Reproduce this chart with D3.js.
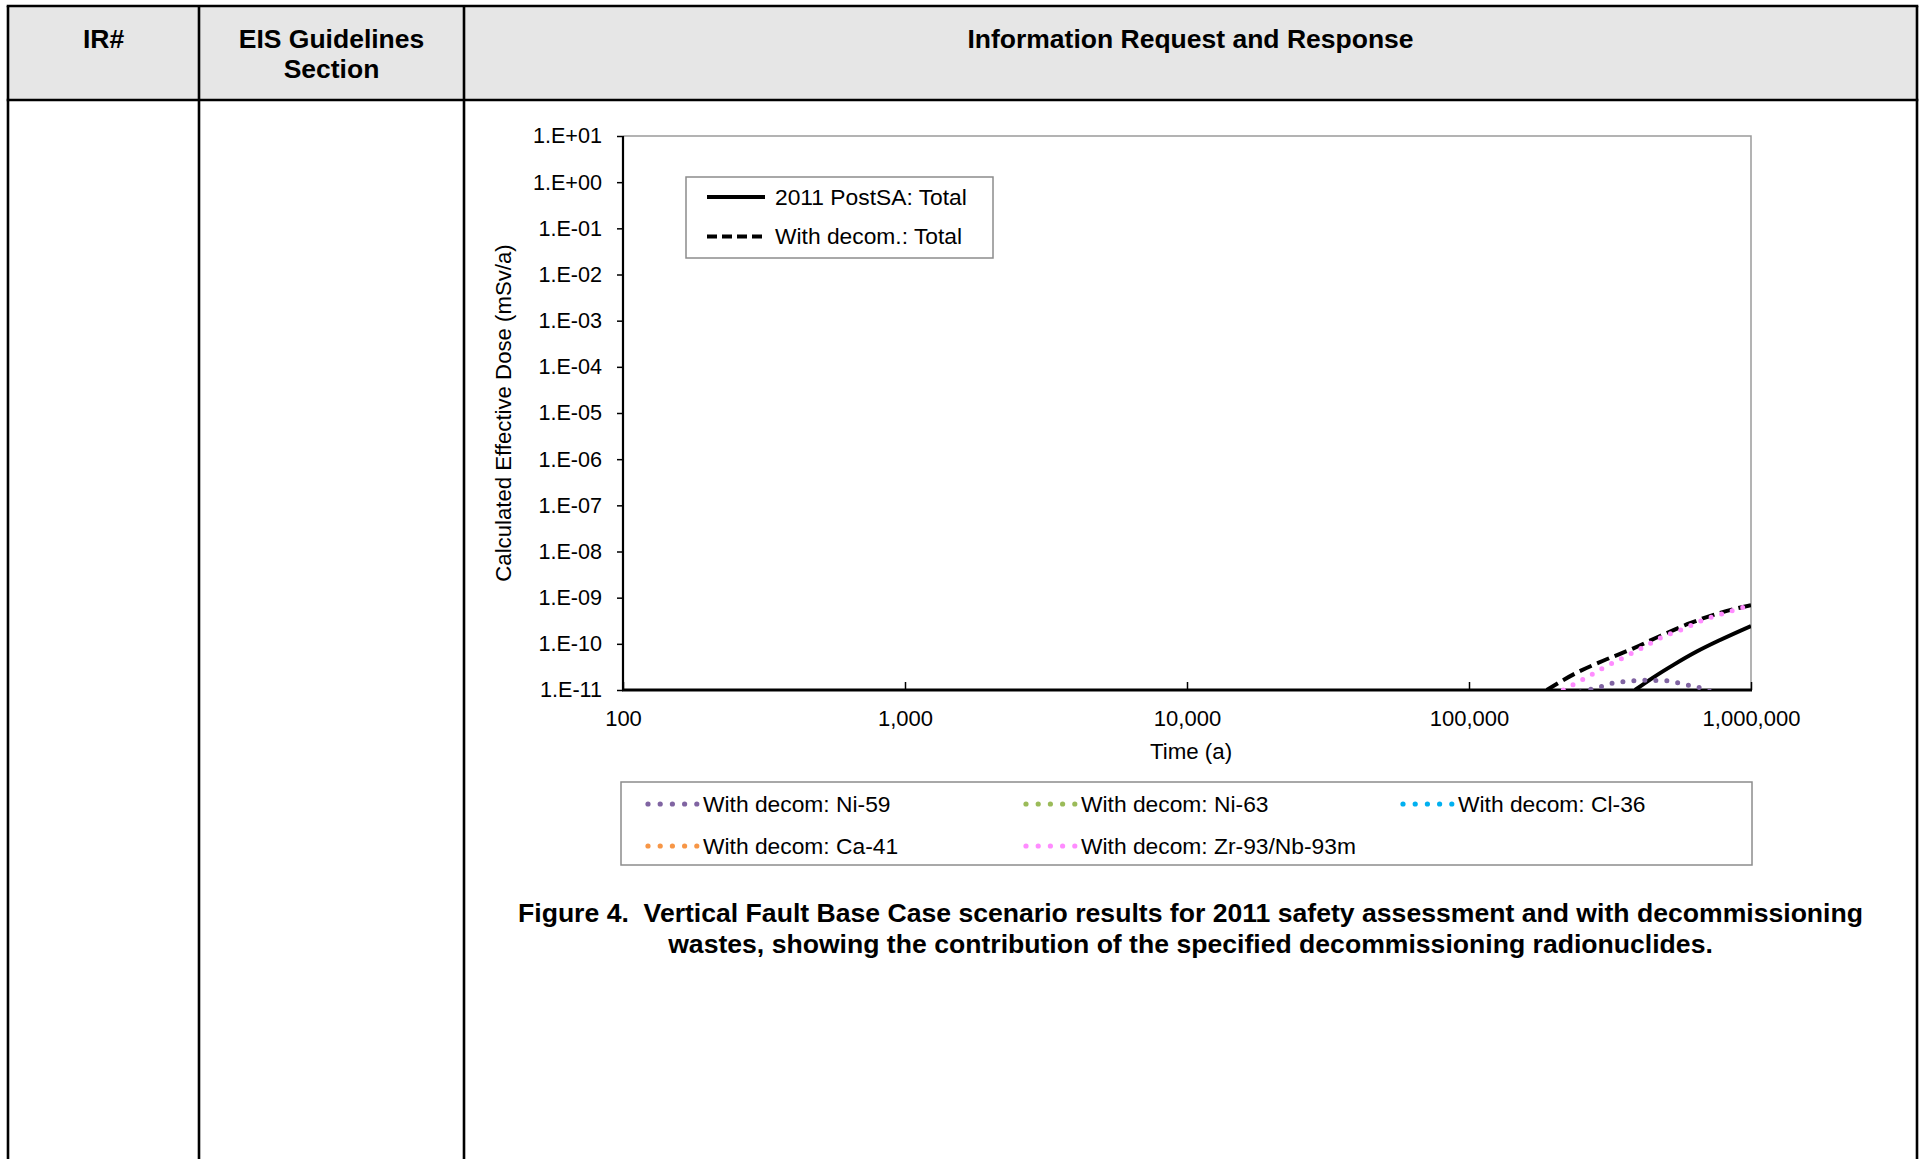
<!DOCTYPE html>
<html>
<head>
<meta charset="utf-8">
<script src="https://cdn.jsdelivr.net/npm/d3@7"></script>
<style>
  body { margin: 0; background: #fff; }
  svg { display: block; }
  text { font-family: "Liberation Sans", Arial, sans-serif; fill: #000; }
</style>
</head>
<body>
<script>

// ---- data ----
const headerTitles = [["IR#"], ["EIS Guidelines", "Section"], ["Information Request and Response"]];

const timeTicks = [100, 1000, 10000, 100000, 1000000];
const doseTicks = [1e1, 1e0, 1e-1, 1e-2, 1e-3, 1e-4, 1e-5, 1e-6, 1e-7, 1e-8, 1e-9, 1e-10, 1e-11];
const doseLabels = ["1.E+01", "1.E+00", "1.E-01", "1.E-02", "1.E-03", "1.E-04", "1.E-05",
                    "1.E-06", "1.E-07", "1.E-08", "1.E-09", "1.E-10", "1.E-11"];

// [time (a), dose (mSv/a)]
const postSATotal = [[388000, 1.0e-11], [451000, 1.88e-11], [531000, 3.5e-11], [642000, 6.8e-11],
                     [777000, 1.21e-10], [1000000, 2.43e-10]];
const decomTotal = [[188700, 1.0e-11], [241000, 2.37e-11], [299000, 4.3e-11], [383000, 8.0e-11],
                    [476000, 1.48e-10], [608000, 2.8e-10], [777000, 4.7e-10], [1000000, 6.9e-10]];
const ni59 = [[248000, 9e-12], [269000, 1.03e-11], [294000, 1.18e-11], [322000, 1.4e-11],
              [352000, 1.51e-11], [388000, 1.6e-11], [424000, 1.62e-11], [463000, 1.6e-11],
              [510000, 1.57e-11], [557000, 1.4e-11], [612000, 1.24e-11], [669000, 1.09e-11],
              [725000, 9e-12]];
const ni63 = [];   // below 1.E-11 over the whole range shown
const cl36 = [];   // below 1.E-11
const ca41 = [];   // below 1.E-11
const zr93 = [[216000, 1.0e-11], [254000, 1.7e-11], [299000, 3.0e-11], [352000, 5.0e-11],
              [415000, 8.4e-11], [488000, 1.43e-10], [575000, 2.1e-10], [678000, 3.3e-10],
              [820000, 4.8e-10], [1000000, 6.9e-10]];

const totalNames = ["2011 PostSA: Total", "With decom.: Total"];
const nuclideNames = ["With decom: Ni-59", "With decom: Ni-63", "With decom: Cl-36",
                      "With decom: Ca-41", "With decom: Zr-93/Nb-93m"];

const captionLines = ["Figure 4.  Vertical Fault Base Case scenario results for 2011 safety assessment and with decommissioning",
                      "wastes, showing the contribution of the specified decommissioning radionuclides."];

// ---- page ----
const W = 1923, H = 1159;
const svg = d3.select("body").append("svg").attr("width", W).attr("height", H);

// table frame
const colX = [8, 199, 464, 1917];
const tTop = 6, tHead = 100;

svg.append("rect")
    .attr("x", colX[0]).attr("y", tTop)
    .attr("width", colX[3] - colX[0]).attr("height", tHead - tTop)
    .attr("fill", "#e6e6e6");

const frame = svg.append("g").attr("stroke", "#000").attr("stroke-width", 2.6);
colX.forEach(cx => frame.append("line").attr("x1", cx).attr("x2", cx).attr("y1", tTop).attr("y2", H + 5));
[tTop, tHead].forEach(ty => frame.append("line").attr("x1", colX[0] - 1.3).attr("x2", colX[3] + 1.3).attr("y1", ty).attr("y2", ty));

headerTitles.forEach((lines, i) => {
    const t = svg.append("text")
        .attr("x", (colX[i] + colX[i + 1]) / 2)
        .attr("y", 48)
        .attr("text-anchor", "middle")
        .style("font-size", "26.5px")
        .style("font-weight", "bold");
    lines.forEach((l, j) => t.append("tspan").attr("x", (colX[i] + colX[i + 1]) / 2).attr("dy", j ? 30 : 0).text(l));
});

// ---- chart ----
const plot = { left: 623, right: 1751, top: 136, bottom: 690 };

const x = d3.scaleLog().domain([100, 1e6]).range([plot.left, plot.right]);
const y = d3.scaleLog().domain([1e-11, 10]).range([plot.bottom, plot.top]);

svg.append("clipPath").attr("id", "plotclip")
    .append("rect")
    .attr("x", plot.left).attr("y", plot.top)
    .attr("width", plot.right - plot.left).attr("height", plot.bottom - plot.top);

// plot border (top / right in grey)
svg.append("path")
    .attr("d", `M${plot.left},${plot.top}H${plot.right}V${plot.bottom}`)
    .attr("fill", "none").attr("stroke", "#9a9a9a").attr("stroke-width", 1.5);

// y axis
const yAxis = svg.append("g")
    .attr("transform", `translate(${plot.left},0)`)
    .call(d3.axisLeft(y).tickValues(doseTicks)
        .tickFormat((d, i) => doseLabels[i])
        .tickSize(6).tickPadding(15));
yAxis.select(".domain").remove();
yAxis.selectAll("line").attr("stroke", "#000").attr("stroke-width", 1.5);
yAxis.selectAll("text").style("font-size", "21.6px").attr("font-family", null);

// x axis
const xAxis = svg.append("g")
    .attr("transform", `translate(0,${plot.bottom})`)
    .call(d3.axisBottom(x).tickValues(timeTicks)
        .tickFormat(d3.format(","))
        .tickSizeInner(-8).tickSizeOuter(0).tickPadding(20));
xAxis.select(".domain").remove();
xAxis.selectAll("line").attr("stroke", "#000").attr("stroke-width", 1.5);
xAxis.selectAll("text").style("font-size", "22px").attr("font-family", null);

// axis lines
svg.append("line").attr("x1", plot.left).attr("x2", plot.left)
    .attr("y1", plot.top).attr("y2", plot.bottom + 1)
    .attr("stroke", "#000").attr("stroke-width", 2.2);
svg.append("line").attr("x1", plot.left - 1).attr("x2", plot.right + 1)
    .attr("y1", plot.bottom).attr("y2", plot.bottom)
    .attr("stroke", "#000").attr("stroke-width", 3);

// axis titles
svg.append("text")
    .attr("x", (plot.left + plot.right) / 2 + 4).attr("y", 751)
    .attr("dy", "0.35em").attr("text-anchor", "middle")
    .style("font-size", "22.3px")
    .text("Time (a)");
svg.append("text")
    .attr("transform", `translate(503,${(plot.top + plot.bottom) / 2}) rotate(-90)`)
    .attr("dy", "0.35em").attr("text-anchor", "middle")
    .style("font-size", "22.2px")
    .text("Calculated Effective Dose (mSv/a)");

// series
const seriesStyle = [
    { data: postSATotal, color: "#000", width: 4, dash: null, cap: "butt" },
    { data: decomTotal, color: "#000", width: 4, dash: "13,6", cap: "butt" },
    { data: ni59, color: "#8064a2", width: 5, dash: "0,11", cap: "round" },
    { data: ni63, color: "#9bbb59", width: 5, dash: "0,11", cap: "round" },
    { data: cl36, color: "#00b0f0", width: 5, dash: "0,11", cap: "round" },
    { data: ca41, color: "#f79646", width: 5, dash: "0,11", cap: "round" },
    { data: zr93, color: "#ff8cff", width: 5, dash: "0,11", cap: "round" }
];

const line = d3.line()
    .x(d => x(d[0]))
    .y(d => y(d[1]))
    .curve(d3.curveMonotoneX);

const curves = svg.append("g").attr("clip-path", "url(#plotclip)");
seriesStyle.filter(s => s.data.length).forEach(s => {
    curves.append("path")
        .datum(s.data)
        .attr("d", line)
        .attr("fill", "none")
        .attr("stroke", s.color)
        .attr("stroke-width", s.width)
        .attr("stroke-linecap", s.cap)
        .attr("stroke-dasharray", s.dash);
});

// legend: totals
const lg1 = svg.append("g");
lg1.append("rect")
    .attr("x", 686).attr("y", 177).attr("width", 307).attr("height", 81)
    .attr("fill", "#fff").attr("stroke", "#8c8c8c").attr("stroke-width", 1.5);
totalNames.forEach((name, i) => {
    const ly = 197 + i * 39.5;
    const s = seriesStyle[i];
    lg1.append("line")
        .attr("x1", 707).attr("x2", 765).attr("y1", ly).attr("y2", ly)
        .attr("stroke", s.color).attr("stroke-width", s.width)
        .attr("stroke-dasharray", s.dash ? "10,5" : null);
    lg1.append("text")
        .attr("x", 775).attr("y", ly).attr("dy", "0.35em")
        .style("font-size", "22.8px")
        .text(name);
});

// legend: nuclides
const lg2 = svg.append("g");
lg2.append("rect")
    .attr("x", 621).attr("y", 782).attr("width", 1131).attr("height", 83)
    .attr("fill", "#fff").attr("stroke", "#8c8c8c").attr("stroke-width", 1.5);
const colStart = [648, 1026, 1403];
nuclideNames.forEach((name, i) => {
    const cx0 = colStart[i % 3];
    const ly = 804 + Math.floor(i / 3) * 42;
    const s = seriesStyle[i + 2];
    lg2.selectAll(null)
        .data(d3.range(5))
        .join("circle")
        .attr("cx", k => cx0 + k * 12.2)
        .attr("cy", ly)
        .attr("r", 2.6)
        .attr("fill", s.color);
    lg2.append("text")
        .attr("x", cx0 + 55).attr("y", ly).attr("dy", "0.35em")
        .style("font-size", "22.8px")
        .text(name);
});

// caption
captionLines.forEach((l, i) => {
    svg.append("text")
        .attr("x", 1190.5).attr("y", 922 + i * 31)
        .attr("text-anchor", "middle")
        .style("font-size", "26.6px")
        .style("font-weight", "bold")
        .style("white-space", "pre")
        .text(l);
});

</script>
</body>
</html>
